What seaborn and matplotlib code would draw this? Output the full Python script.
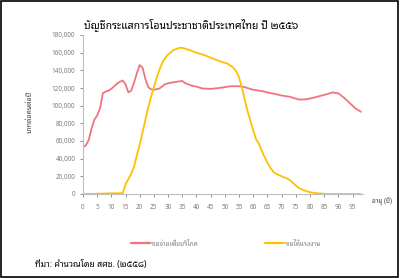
import matplotlib
matplotlib.use("Agg")
import matplotlib.pyplot as plt
import matplotlib.ticker as mticker
from matplotlib.patches import Rectangle
import numpy as np
import pandas as pd
import seaborn as sns

# ---- data ----
title = "บัญชีกระแสการโอนประชาชาติประเทศไทย ปี ๒๕๕๖"
ylabel = "บาทต่อคนต่อปี"
xlabel = "อายุ (ปี)"
source = "ที่มา: คำนวณโดย สศช. (๒๕๕๘)"
series_names = ["รายจ่ายเพื่อบริโภค", "รายได้แรงงาน"]

cons_age = [0, 1, 2, 3, 4, 5, 6, 7, 8, 9, 10, 11, 12, 13, 14, 15, 16, 17, 18, 19,
            20, 21, 22, 23, 24, 25, 27, 29, 31, 33, 35, 36, 38, 40, 42, 45, 48, 50,
            52, 55, 57, 60, 63, 65, 68, 70, 73, 76, 78, 80, 83, 86, 88, 90, 92, 94,
            96, 98]
cons_val = [53000, 55000, 61000, 74000, 84000, 89000, 97000, 114000, 116000, 117000,
            119000, 122000, 125000, 127000, 128500, 124000, 115000, 117000, 126000, 137000,
            146000, 143000, 130000, 121000, 118500, 118000, 119500, 124500, 126000, 127000,
            128000, 125500, 123000, 121500, 119500, 119000, 120000, 121000, 122000, 122000,
            121000, 118000, 116500, 115000, 113000, 111500, 110000, 107000, 107000, 108000,
            110500, 113000, 115000, 114000, 109000, 103000, 97000, 93000]

lab_age = [0, 14, 15, 16, 17, 18, 19, 20, 21, 22, 23, 24, 25, 26, 27, 28, 29, 30, 32,
           34, 35, 37, 40, 43, 46, 49, 51, 53, 54, 55, 56, 57, 58, 59, 60, 61, 62, 63,
           64, 65, 66, 67, 68, 70, 72, 73, 74, 76, 78, 80, 82, 84, 86, 90, 95, 98]
lab_val = [0, 1000, 11000, 17000, 23000, 31000, 44000, 56000, 70000, 84000, 98000,
           110000, 121000, 132000, 141000, 149000, 154000, 158000, 163000, 165500, 165500,
           163500, 160000, 157000, 153000, 149500, 147500, 143000, 139000, 132000, 121000,
           107000, 94000, 83000, 72000, 62000, 57000, 49000, 42000, 35500, 30000, 25500,
           23000, 20000, 17500, 15500, 12500, 7000, 4000, 2000, 1000, 500, 0, 0, 0, 0]

xticks = list(range(0, 100, 5))
yticks = list(range(0, 180001, 20000))

colors = ["#F2737D", "#FFC000"]

# ---- build the long table ----
df = pd.concat([
    pd.DataFrame({"age": cons_age, "value": cons_val, "series": series_names[0]}),
    pd.DataFrame({"age": lab_age, "value": lab_val, "series": series_names[1]}),
], ignore_index=True)

sns.set_style("white")
plt.rcParams["font.family"] = ["Noto Sans Thai Looped", "DejaVu Sans"]

fig = plt.figure(figsize=(4.0, 2.78), dpi=100)
ax = fig.add_axes([83 / 400, 1 - 194 / 278, 280 / 400, 159 / 278])

sns.lineplot(data=df, x="age", y="value", hue="series", palette=colors,
             hue_order=series_names, linewidth=1.3, ax=ax, legend=False, sort=True)

ax.set_xlim(0, 98.7)
ax.set_ylim(0, 180000)
ax.set_xticks(xticks)
ax.set_yticks(yticks)
ax.yaxis.set_major_formatter(mticker.FuncFormatter(lambda v, p: f"{int(v):,}"))
ax.tick_params(axis="both", labelsize=4.6, colors="#7F7F7F", length=2.5, width=0.6,
               direction="out", pad=3)
ax.tick_params(axis="x", pad=5)
ax.tick_params(axis="both", bottom=True, left=True)
for side in ["top", "right"]:
    ax.spines[side].set_visible(False)
for side in ["left", "bottom"]:
    ax.spines[side].set_color("#BFBFBF")
    ax.spines[side].set_linewidth(0.8)
ax.set_xlabel("")
ax.set_ylabel("")

fig.text(30 / 400, 1 - 112 / 278, ylabel, rotation=90, ha="center", va="center",
         fontsize=5, fontweight="bold", color="#404040")
fig.text(382 / 400, 1 - 201 / 278, xlabel, ha="center", va="center",
         fontsize=4.6, color="#404040")
fig.text(191 / 400, 1 - 25 / 278, title, ha="center", va="center",
         fontsize=7.5, color="#000000")
fig.text(35 / 400, 1 - 265 / 278, source, ha="left", va="center",
         fontsize=6.3, color="#000000")

handles = [plt.Line2D([], [], color=c, linewidth=1.6) for c in colors]
fig.legend(handles, series_names, loc="center", bbox_to_anchor=(226 / 400, 1 - 244 / 278),
           ncol=2, frameon=False, fontsize=4.6, labelcolor="#7F7F7F",
           handlelength=3.0, handletextpad=0.1, columnspacing=10.5)

fig.add_artist(Rectangle((0.003, 0.004), 0.992, 0.992, transform=fig.transFigure,
                         fill=False, edgecolor="#000000", linewidth=1.2))

fig.savefig("out.png", dpi=100)
